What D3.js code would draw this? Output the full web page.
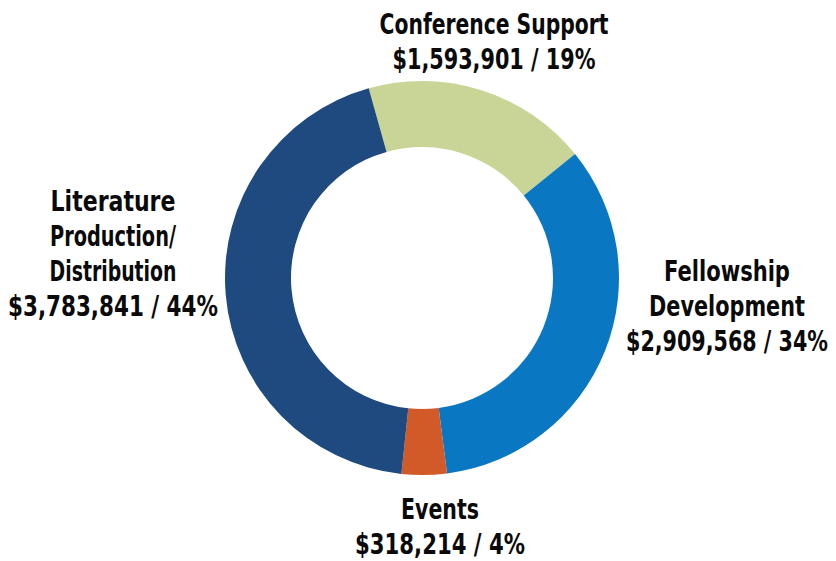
<!DOCTYPE html>
<html>
<head>
<meta charset="utf-8">
<script src="https://cdn.jsdelivr.net/npm/d3@7/dist/d3.min.js"></script>
<style>
  html, body { margin: 0; padding: 0; background: #ffffff; }
  svg { display: block; }
  text { font-family: "Liberation Sans Narrow", "Arial Narrow", "DejaVu Sans Condensed", sans-serif; font-weight: bold; fill: #0a0a0a; }
</style>
</head>
<body>
<svg id="chart" width="836" height="561"></svg>
<script>
// ---- data ----
const categories = ["Conference Support", "Fellowship Development", "Events", "Literature Production/Distribution"];
const amounts = [1593901, 2909568, 318214, 3783841];
const percentLabels = ["19%", "34%", "4%", "44%"];
const labelLines = [
  ["Conference Support"],
  ["Fellowship", "Development"],
  ["Events"],
  ["Literature", "Production/", "Distribution"]
];
const colors = ["#c8d597", "#0a77c3", "#d25a28", "#1e4a80"];

// ---- layout ----
const svg = d3.select("#chart");
const cx = 422, cy = 278, outerR = 197, innerR = 131;
const startAngle = -15.7 * Math.PI / 180;

const pie = d3.pie().sort(null).value(d => d.value)
  .startAngle(startAngle).endAngle(startAngle + 2 * Math.PI);
const arc = d3.arc().innerRadius(innerR).outerRadius(outerR);

const data = categories.map((c, i) => ({ name: c, value: amounts[i], color: colors[i] }));

svg.append("g").attr("transform", `translate(${cx},${cy})`)
  .selectAll("path").data(pie(data)).join("path")
  .attr("d", arc)
  .attr("fill", d => d.data.color);

// label placement (center x, first baseline) and fitted widths per line
const fmt = d3.format("$,");
const labelPos = [
  { x: 494, y: 34 },
  { x: 727, y: 281 },
  { x: 440, y: 519 },
  { x: 113, y: 211 }
];
const lineHeight = 35;
const lineWidths = [
  [229, 203],
  [126, 156, 202],
  [78, 170],
  [125, 126, 127, 210]
];

const labels = svg.append("g").attr("class", "labels");
labelLines.forEach((lines, i) => {
  const all = lines.concat([fmt(amounts[i]) + " / " + percentLabels[i]]);
  all.forEach((ln, j) => {
    const t = labels.append("text")
      .attr("text-anchor", "middle")
      .attr("font-size", 28)
      .text(ln);
    const len = t.node().getComputedTextLength();
    const w = lineWidths[i][j];
    const sx = (w && len > 0) ? w / len : 1;
    t.attr("transform", `translate(${labelPos[i].x},${labelPos[i].y + j * lineHeight}) scale(${sx},1)`);
  });
});
</script>
</body>
</html>
